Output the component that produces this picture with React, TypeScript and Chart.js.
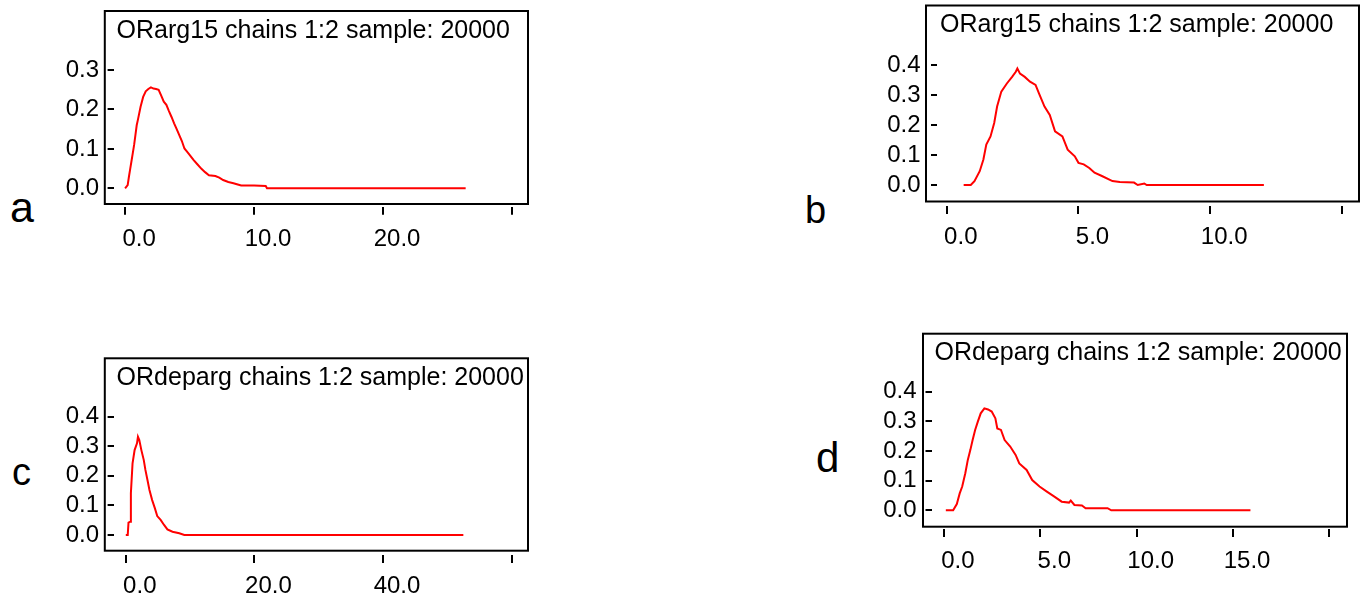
import React, { useEffect, useRef } from 'react';
import { Chart, registerables } from 'chart.js';

Chart.register(...registerables);

// ---------- Panel a: ORarg15 ----------
const aTitle = 'ORarg15 chains 1:2 sample: 20000';
const aDensX = [0.0, 0.2, 0.3, 0.4, 0.5, 0.6, 0.7, 0.8, 0.9, 1.0, 1.2, 1.4, 1.6, 1.8, 2.0, 2.2, 2.4, 2.6, 2.8, 3.0, 3.2, 3.4, 3.6, 3.8, 4.0, 4.2, 4.4, 4.6, 4.8, 5.0, 5.3, 5.6, 5.9, 6.2, 6.5, 7.0, 7.3, 7.6, 8.0, 8.4, 8.8, 9.0, 10.0, 10.9, 11.0, 26.4];
const aDensY = [0.0, 0.008, 0.03, 0.05, 0.07, 0.09, 0.11, 0.135, 0.16, 0.175, 0.207, 0.232, 0.246, 0.252, 0.256, 0.253, 0.252, 0.25, 0.235, 0.22, 0.212, 0.196, 0.181, 0.165, 0.15, 0.135, 0.12, 0.101, 0.093, 0.085, 0.072, 0.061, 0.05, 0.041, 0.033, 0.031, 0.027, 0.021, 0.016, 0.013, 0.009, 0.007, 0.0068, 0.006, 0.0, 0.0];
const aXTicks = [0, 10, 20, 30];
const aXLabels = ['0.0', '10.0', '20.0', ''];
const aYTicks = [0, 0.1, 0.2, 0.3];
const aYLabels = ['0.0', '0.1', '0.2', '0.3'];

// ---------- Panel b: ORarg15 ----------
const bTitle = 'ORarg15 chains 1:2 sample: 20000';
const bDensX = [0.64, 0.91, 1.05, 1.25, 1.39, 1.5, 1.66, 1.8, 1.91, 2.07, 2.28, 2.48, 2.62, 2.68, 2.78, 2.96, 3.16, 3.37, 3.5, 3.71, 3.91, 4.11, 4.39, 4.59, 4.86, 5.0, 5.2, 5.41, 5.61, 5.89, 6.29, 6.57, 7.11, 7.25, 7.5, 7.59, 12.04];
const bDensY = [0, 0, 0.013, 0.046, 0.085, 0.135, 0.162, 0.207, 0.262, 0.312, 0.339, 0.361, 0.378, 0.389, 0.372, 0.361, 0.345, 0.334, 0.306, 0.262, 0.234, 0.179, 0.162, 0.118, 0.096, 0.074, 0.069, 0.057, 0.041, 0.03, 0.013, 0.01, 0.008, 0.0, 0.005, 0, 0];
const bXTicks = [0, 5, 10, 15];
const bXLabels = ['0.0', '5.0', '10.0', ''];
const bYTicks = [0, 0.1, 0.2, 0.3, 0.4];
const bYLabels = ['0.0', '0.1', '0.2', '0.3', '0.4'];

// ---------- Panel c: ORdeparg ----------
const cTitle = 'ORdeparg chains 1:2 sample: 20000';
const cDensX = [0, 0.3, 0.42, 0.68, 0.79, 1.05, 1.37, 1.74, 1.89, 2.1, 2.42, 2.79, 3.05, 3.37, 3.68, 4.1, 4.53, 4.89, 5.42, 5.95, 6.47, 7.26, 8.32, 9.1, 52.5];
const cDensY = [0, 0, 0.042, 0.045, 0.141, 0.242, 0.287, 0.31, 0.332, 0.321, 0.287, 0.254, 0.22, 0.186, 0.152, 0.118, 0.09, 0.064, 0.051, 0.034, 0.019, 0.011, 0.006, 0, 0];
const cXTicks = [0, 20, 40, 60];
const cXLabels = ['0.0', '20.0', '40.0', ''];
const cYTicks = [0, 0.1, 0.2, 0.3, 0.4];
const cYLabels = ['0.0', '0.1', '0.2', '0.3', '0.4'];

// ---------- Panel d: ORdeparg ----------
const dTitle = 'ORdeparg chains 1:2 sample: 20000';
const dDensX = [0.1, 0.48, 0.67, 0.82, 0.95, 1.11, 1.24, 1.37, 1.49, 1.62, 1.76, 1.91, 2.1, 2.29, 2.48, 2.67, 2.77, 2.96, 3.15, 3.44, 3.72, 3.91, 4.29, 4.58, 4.96, 5.34, 5.73, 6.11, 6.49, 6.58, 6.77, 7.16, 7.35, 8.49, 8.68, 15.9];
const dDensY = [0, 0, 0.021, 0.057, 0.08, 0.125, 0.17, 0.203, 0.237, 0.271, 0.299, 0.327, 0.344, 0.34, 0.333, 0.31, 0.276, 0.271, 0.237, 0.215, 0.187, 0.158, 0.136, 0.102, 0.08, 0.063, 0.046, 0.029, 0.026, 0.033, 0.018, 0.016, 0.007, 0.007, 0, 0];
const dXTicks = [0, 5, 10, 15, 20];
const dXLabels = ['0.0', '5.0', '10.0', '15.0', ''];
const dYTicks = [0, 0.1, 0.2, 0.3, 0.4];
const dYLabels = ['0.0', '0.1', '0.2', '0.3', '0.4'];

const FONT = '"Liberation Sans", Arial, Helvetica, sans-serif';

type Panel = {
  letter: string;
  title: string;
  xs: number[];
  ys: number[];
  xTicks: number[];
  xLabels: string[];
  yTicks: number[];
  yLabels: string[];
  xMin: number; xMax: number; yMin: number; yMax: number;
  rect: { x: number; y: number; w: number; h: number };
  area: { l: number; t: number; r: number; b: number };
  insetL: number; insetB: number;
  yPad: number; xPad: number;
  spacing: string;
  letterPos: { left: number; top: number; size: number };
};

const panels: Panel[] = [
  {
    letter: 'a', title: aTitle, xs: aDensX, ys: aDensY,
    xTicks: aXTicks, xLabels: aXLabels, yTicks: aYTicks, yLabels: aYLabels,
    xMin: -0.891, xMax: 31.31, yMin: -0.0467, yMax: 0.4525,
    rect: { x: 40, y: 0, w: 500, h: 260 },
    area: { l: 113.6, t: 10, r: 529, b: 206.7 },
    insetL: 8.8, insetB: 2.7, yPad: 8.5, xPad: 10, spacing: '0px',
    letterPos: { left: 10, top: 186, size: 43 },
  },
  {
    letter: 'b', title: bTitle, xs: bDensX, ys: bDensY,
    xTicks: bXTicks, xLabels: bXLabels, yTicks: bYTicks, yLabels: bYLabels,
    xMin: -0.372, xMax: 15.69, yMin: -0.0701, yMax: 0.6027,
    rect: { x: 860, y: 0, w: 504, h: 260 },
    area: { l: 937, t: 4.5, r: 1360, b: 206 },
    insetL: 11, insetB: 4.5, yPad: 10.5, xPad: 9, spacing: '0px',
    letterPos: { left: 805, top: 191, size: 38 },
  },
  {
    letter: 'c', title: cTitle, xs: cDensX, ys: cDensY,
    xTicks: cXTicks, xLabels: cXLabels, yTicks: cYTicks, yLabels: cYLabels,
    xMin: -1.897, xMax: 62.71, yMin: -0.0676, yMax: 0.6008,
    rect: { x: 40, y: 340, w: 500, h: 259 },
    area: { l: 113.6, t: 357.3, r: 529, b: 555 },
    insetL: 8.8, insetB: 4.3, yPad: 8.5, xPad: 8.5, spacing: '0px',
    letterPos: { left: 12, top: 453, size: 38 },
  },
  {
    letter: 'd', title: dTitle, xs: dDensX, ys: dDensY,
    xTicks: dXTicks, xLabels: dXLabels, yTicks: dYTicks, yLabels: dYLabels,
    xMin: -0.643, xMax: 20.96, yMin: -0.0631, yMax: 0.599,
    rect: { x: 860, y: 320, w: 504, h: 279 },
    area: { l: 931.5, t: 332.7, r: 1348, b: 529 },
    insetL: 8.5, insetB: 2.3, yPad: 9, xPad: 9.5, spacing: '0px',
    letterPos: { left: 816, top: 437, size: 42 },
  },
];

const frameTitlePlugin = {
  id: 'frameTitle',
  afterDraw(chart: any, _args: any, opts: any) {
    const { ctx, chartArea: ca } = chart;
    ctx.save();
    ctx.strokeStyle = '#000';
    ctx.lineWidth = 2;
    const left = ca.left - opts.insetL;
    const bottom = ca.bottom - opts.insetB;
    ctx.strokeRect(left, ca.top + 1, ca.right - 1 - left, bottom - ca.top - 1);
    ctx.fillStyle = '#000';
    ctx.font = `25px ${FONT}`;
    try { (ctx as any).letterSpacing = opts.spacing; } catch (e) { /* ignore */ }
    ctx.textAlign = 'left';
    ctx.textBaseline = 'alphabetic';
    ctx.fillText(opts.text, ca.left + 3, ca.top + 27.5);
    ctx.restore();
  },
};

function zeroPad(s: any) {
  s.paddingTop = 0;
  s.paddingBottom = 0;
  s.paddingLeft = 0;
  s.paddingRight = 0;
}

function PanelChart({ p }: { p: Panel }) {
  const ref = useRef<HTMLCanvasElement | null>(null);
  useEffect(() => {
    if (!ref.current) return;
    const { rect, area } = p;
    const yAxisW = area.l - rect.x;
    const xAxisH = rect.y + rect.h - area.b;
    const chart = new Chart(ref.current, {
      type: 'line',
      data: {
        datasets: [
          {
            data: p.xs.map((x, i) => ({ x, y: p.ys[i] })),
            borderColor: '#ff0000',
            borderWidth: 2,
            pointRadius: 0,
            fill: false,
            tension: 0,
          },
        ],
      },
      options: {
        animation: false,
        responsive: false,
        devicePixelRatio: 1,
        layout: {
          padding: { top: area.t - rect.y, right: rect.x + rect.w - area.r, left: 0, bottom: 0 },
        },
        plugins: {
          legend: { display: false },
          tooltip: { enabled: false },
          frameTitle: { text: p.title, insetL: p.insetL, insetB: p.insetB, spacing: p.spacing },
        } as any,
        scales: {
          x: {
            type: 'linear',
            min: p.xMin,
            max: p.xMax,
            afterBuildTicks: (s: any) => { s.ticks = p.xTicks.map((v) => ({ value: v })); },
            afterFit: (s: any) => { s.height = xAxisH; zeroPad(s); },
            grid: { display: true, drawOnChartArea: false, drawTicks: true, tickLength: 8, tickWidth: 2, tickColor: '#000', color: '#000', lineWidth: 2 },
            border: { display: false },
            ticks: {
              color: '#000',
              font: { family: FONT, size: 24 },
              padding: p.xPad,
              labelOffset: 14,
              maxRotation: 0,
              minRotation: 0,
              autoSkip: false,
              callback: (_v: any, i: number) => p.xLabels[i],
            },
          },
          y: {
            type: 'linear',
            min: p.yMin,
            max: p.yMax,
            afterBuildTicks: (s: any) => { s.ticks = p.yTicks.map((v) => ({ value: v })); },
            afterFit: (s: any) => { s.width = yAxisW; zeroPad(s); },
            grid: { display: true, drawOnChartArea: false, drawTicks: true, tickLength: 6, tickWidth: 2, tickColor: '#000', color: '#000', lineWidth: 2 },
            border: { display: false },
            ticks: {
              color: '#000',
              font: { family: FONT, size: 24 },
              padding: p.yPad,
              autoSkip: false,
              callback: (_v: any, i: number) => p.yLabels[i],
            },
          },
        },
      } as any,
      plugins: [frameTitlePlugin as any],
    });
    return () => chart.destroy();
  }, [p]);
  return (
    <canvas
      ref={ref}
      width={p.rect.w}
      height={p.rect.h}
      style={{ position: 'absolute', left: p.rect.x, top: p.rect.y, width: p.rect.w, height: p.rect.h }}
    />
  );
}

export default function App() {
  return (
    <div style={{ position: 'absolute', left: 0, top: 0, width: 1364, height: 599, background: '#fff', overflow: 'hidden' }}>
      {panels.map((p) => (
        <React.Fragment key={p.letter}>
          <PanelChart p={p} />
          <div
            style={{
              position: 'absolute',
              left: p.letterPos.left,
              top: p.letterPos.top,
              fontFamily: FONT,
              fontSize: p.letterPos.size,
              lineHeight: 1,
              color: '#000',
            }}
          >
            {p.letter}
          </div>
        </React.Fragment>
      ))}
    </div>
  );
}
